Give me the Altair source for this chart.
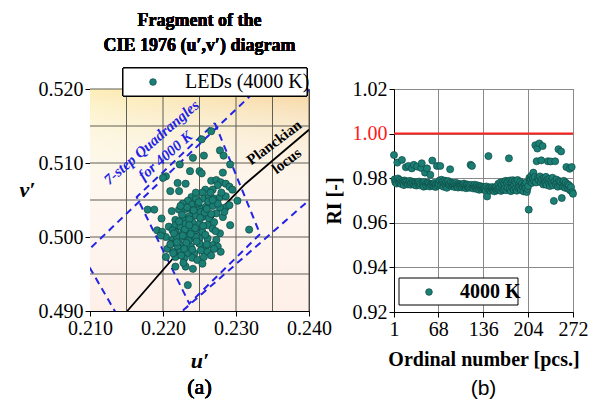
import altair as alt
import pandas as pd

# ---------------- Panel (a): CIE 1976 u'v' fragment ----------------
u_vals = [0.2266, 0.2253, 0.2256, 0.2241, 0.2278, 0.2283, 0.2223, 0.2292, 0.2282, 0.2237,
          0.2250, 0.2253, 0.2204, 0.2200, 0.2220, 0.2231, 0.2210, 0.2222, 0.2266, 0.2273,
          0.2279, 0.2286, 0.2275, 0.2291, 0.2258, 0.2254, 0.2268, 0.2295, 0.2302, 0.2239,
          0.2245, 0.2234, 0.2227, 0.2240, 0.2256, 0.2263, 0.2270, 0.2278, 0.2286, 0.2179,
          0.2188, 0.2198, 0.2212, 0.2222, 0.2231, 0.2240, 0.2250, 0.2259, 0.2268, 0.2286,
          0.2291, 0.2282, 0.2284, 0.2245, 0.2236, 0.2227, 0.2217, 0.2254, 0.2263, 0.2273,
          0.2292, 0.2318, 0.2192, 0.2199, 0.2208, 0.2217, 0.2224, 0.2231, 0.2240, 0.2250,
          0.2261, 0.2268, 0.2278, 0.2217, 0.2227, 0.2236, 0.2245, 0.2254, 0.2204, 0.2213,
          0.2222, 0.2231, 0.2240, 0.2250, 0.2261, 0.2273, 0.2211, 0.2220, 0.2229, 0.2238,
          0.2250, 0.2259, 0.2268, 0.2275, 0.2206, 0.2214, 0.2224, 0.2234, 0.2243, 0.2252,
          0.2261, 0.2270, 0.2279, 0.2204, 0.2217, 0.2229, 0.2240, 0.2247, 0.2256, 0.2266,
          0.2254, 0.2217, 0.2231, 0.2241, 0.2234, 0.2197, 0.2213, 0.2266, 0.2278, 0.2252,
          0.2230, 0.2245, 0.2226, 0.2248, 0.2262, 0.2235, 0.2219, 0.2255, 0.2270, 0.2225,
          0.2240, 0.2210, 0.2233, 0.2265, 0.2280, 0.2245, 0.2215, 0.2260, 0.2275, 0.2228,
          0.2222, 0.2236, 0.2244, 0.2251, 0.2227, 0.2238, 0.2257, 0.2219, 0.2232, 0.2246,
          0.2258, 0.2268, 0.2224, 0.2236, 0.2249, 0.2214, 0.2229, 0.2242, 0.2260, 0.2272]
v_vals = [0.5143, 0.5132, 0.5110, 0.5107, 0.5117, 0.5110, 0.5098, 0.5098, 0.5087, 0.5089,
          0.5089, 0.5086, 0.5082, 0.5080, 0.5073, 0.5072, 0.5062, 0.5062, 0.5076, 0.5077,
          0.5074, 0.5072, 0.5070, 0.5068, 0.5064, 0.5060, 0.5064, 0.5064, 0.5049, 0.5054,
          0.5052, 0.5049, 0.5045, 0.5044, 0.5052, 0.5054, 0.5052, 0.5054, 0.5055, 0.5037,
          0.5037, 0.5025, 0.5035, 0.5037, 0.5038, 0.5036, 0.5040, 0.5041, 0.5042, 0.5040,
          0.5043, 0.5027, 0.5034, 0.5029, 0.5028, 0.5025, 0.5023, 0.5027, 0.5025, 0.5032,
          0.5016, 0.5010, 0.5009, 0.5007, 0.5014, 0.5016, 0.5014, 0.5018, 0.5020, 0.5018,
          0.5016, 0.5011, 0.5005, 0.5007, 0.5005, 0.5009, 0.5009, 0.5007, 0.5000, 0.4996,
          0.4997, 0.5000, 0.4998, 0.4998, 0.4998, 0.4996, 0.4991, 0.4987, 0.4989, 0.4987,
          0.4991, 0.4988, 0.4989, 0.4987, 0.4984, 0.4980, 0.4980, 0.4978, 0.4978, 0.4982,
          0.4980, 0.4984, 0.4980, 0.4973, 0.4973, 0.4971, 0.4972, 0.4969, 0.4973, 0.4975,
          0.4964, 0.4960, 0.4960, 0.4957, 0.4935, 0.5002, 0.5009, 0.5031, 0.5040, 0.5034,
          0.5010, 0.5000, 0.5030, 0.5045, 0.5048, 0.4995, 0.5000, 0.5015, 0.5020, 0.4975,
          0.4983, 0.4990, 0.5040, 0.5060, 0.5060, 0.5060, 0.5005, 0.4990, 0.5045, 0.4965,
          0.5021, 0.5024, 0.5012, 0.5026, 0.5002, 0.5004, 0.5033, 0.4993, 0.4992, 0.4994,
          0.5003, 0.5050, 0.5042, 0.5016, 0.5047, 0.4978, 0.4984, 0.5036, 0.5038, 0.5008]

planck_u = [0.2151, 0.2219, 0.2242, 0.2313, 0.2345, 0.2400]
planck_v = [0.4900, 0.4977, 0.5000, 0.5072, 0.5099, 0.5145]

quad_shape = ["outer"] * 5 + ["inner"] * 5
quad_u = [0.2090, 0.2375, 0.2455, 0.2165, 0.2090, 0.2271, 0.2333, 0.2236, 0.2164, 0.2271]
quad_v = [0.4975, 0.5243, 0.5097, 0.4847, 0.4975, 0.5154, 0.5004, 0.4910, 0.5054, 0.5154]

grid_u = [0.215, 0.220, 0.225, 0.230, 0.235, 0.240]
grid_v = [0.495, 0.500, 0.505, 0.510, 0.515, 0.520]
u_ticks = [0.21, 0.22, 0.23, 0.24]
v_ticks = [0.49, 0.50, 0.51, 0.52]

# ---------------- Panel (b): RI of 272 LEDs ----------------
ri_vals = [
    0.9904, 0.9795, 0.9782, 0.9788, 0.9776, 0.9870, 0.9799, 0.9785, 0.9779, 0.9792, 0.9781, 0.9774, 0.9882, 0.9787, 0.9778, 0.9769, 0.9790,
    0.9783, 0.9849, 0.9777, 0.9785, 0.9772, 0.9855, 0.9780, 0.9788, 0.9771, 0.9779, 0.9844, 0.9784, 0.9776, 0.9860, 0.9770, 0.9782, 0.9778,
    0.9767, 0.9852, 0.9780, 0.9773, 0.9785, 0.9768, 0.9776, 0.9846, 0.9867, 0.9779, 0.9771, 0.9762, 0.9783, 0.9825, 0.9774, 0.9766, 0.9844,
    0.9780, 0.9770, 0.9776, 0.9763, 0.9815, 0.9772, 0.9768, 0.9879, 0.9775, 0.9764, 0.9779, 0.9770, 0.9761, 0.9773, 0.9855, 0.9766, 0.9777,
    0.9772, 0.9790, 0.9855, 0.9768, 0.9793, 0.9775, 0.9785, 0.9762, 0.9778, 0.9789, 0.9770, 0.9783, 0.9757, 0.9776, 0.9787, 0.9769, 0.9774,
    0.9840, 0.9781, 0.9764, 0.9772, 0.9778, 0.9766, 0.9775, 0.9760, 0.9771, 0.9779, 0.9765, 0.9770, 0.9758, 0.9774, 0.9768, 0.9762, 0.9773,
    0.9767, 0.9758, 0.9771, 0.9764, 0.9776, 0.9761, 0.9769, 0.9755, 0.9766, 0.9772, 0.9760, 0.9768, 0.9757, 0.9763, 0.9860, 0.9770, 0.9855,
    0.9761, 0.9754, 0.9766, 0.9771, 0.9759, 0.9763, 0.9752, 0.9768, 0.9757, 0.9762, 0.9748, 0.9765, 0.9758, 0.9753, 0.9762, 0.9749, 0.9756,
    0.9761, 0.9751, 0.9758, 0.9746, 0.9763, 0.9718, 0.9755, 0.9899, 0.9750, 0.9759, 0.9744, 0.9756, 0.9752, 0.9760, 0.9747, 0.9754, 0.9741,
    0.9758, 0.9750, 0.9762, 0.9745, 0.9753, 0.9775, 0.9749, 0.9757, 0.9781, 0.9743, 0.9769, 0.9752, 0.9784, 0.9748, 0.9776, 0.9755, 0.9788,
    0.9746, 0.9779, 0.9756, 0.9786, 0.9889, 0.9751, 0.9790, 0.9742, 0.9783, 0.9758, 0.9791, 0.9749, 0.9770, 0.9787, 0.9753, 0.9779, 0.9744,
    0.9792, 0.9757, 0.9773, 0.9762, 0.9785, 0.9748, 0.9768, 0.9777, 0.9759, 0.9741, 0.9771, 0.9766, 0.9755, 0.9780, 0.9738, 0.9752, 0.9764,
    0.9659, 0.9802, 0.9786, 0.9795, 0.9810, 0.9779, 0.9798, 0.9825, 0.9788, 0.9805, 0.9948, 0.9781, 0.9876, 0.9933, 0.9799, 0.9791, 0.9956,
    0.9808, 0.9782, 0.9880, 0.9795, 0.9944, 0.9772, 0.9801, 0.9787, 0.9778, 0.9806, 0.9770, 0.9792, 0.9876, 0.9783, 0.9797, 0.9765, 0.9875,
    0.9789, 0.9776, 0.9802, 0.9768, 0.9698, 0.9785, 0.9876, 0.9772, 0.9794, 0.9779, 0.9762, 0.9930, 0.9787, 0.9770, 0.9783, 0.9920, 0.9711,
    0.9776, 0.9762, 0.9788, 0.9769, 0.9757, 0.9780, 0.9850, 0.9764, 0.9773, 0.9752, 0.9768, 0.9842, 0.9745, 0.9760, 0.9850, 0.9738, 0.9730,
]
n_ticks = [1, 68, 136, 204, 272]
ri_ticks = [0.92, 0.94, 0.96, 0.98, 1.00, 1.02]

SERIF = "Liberation Serif"
TEAL = "#1b7f75"
TEAL_EDGE = "#0d4a44"
BLUE = "#2323e6"

# ---------------- build left chart ----------------
WL, HL = 219, 222
df_pts = pd.DataFrame({"u": u_vals, "v": v_vals, "series": "LEDs (4000 K)"})
df_planck = pd.DataFrame({"u": planck_u, "v": planck_v, "o": list(range(len(planck_u)))})
df_quad = pd.DataFrame({"u": quad_u, "v": quad_v, "shape": quad_shape, "o": list(range(len(quad_u)))})
df_gu = pd.DataFrame({"u": grid_u})
df_gv = pd.DataFrame({"v": grid_v})

xs = alt.Scale(domain=[0.21, 0.24], nice=False, zero=False)
ys = alt.Scale(domain=[0.49, 0.52], nice=False, zero=False)
xax = alt.Axis(values=u_ticks, format=".3f", grid=False, labelFlush=False, labelOverlap=False,
               title="u′", titleFontStyle="italic", titleFontWeight="bold", titleFontSize=22,
               titlePadding=12)
yax = alt.Axis(values=v_ticks, format=".3f", grid=False, labelOverlap=False,
               title="v′", titleAngle=0, titleX=-63, titleY=100, titleAlign="center",
               titleBaseline="middle", titleFontStyle="italic", titleFontWeight="bold",
               titleFontSize=22)
X = alt.X("u:Q", scale=xs, axis=xax)
Y = alt.Y("v:Q", scale=ys, axis=yax)

bg1 = alt.Chart(df_gu).mark_rect(
    color=alt.LinearGradient(gradient="linear", x1=0, y1=0, x2=1, y2=0,
                             stops=[alt.GradientStop(color="#fdefb8", offset=0),
                                    alt.GradientStop(color="#f8d49c", offset=1)])
).encode(x=alt.value(0), x2=alt.value(WL), y=alt.value(0), y2=alt.value(HL))
bg2 = alt.Chart(df_gu).mark_rect(
    color=alt.LinearGradient(gradient="linear", x1=0, y1=0, x2=0, y2=1,
                             stops=[alt.GradientStop(color="rgba(255,255,255,0)", offset=0),
                                    alt.GradientStop(color="rgba(254,240,232,0.7)", offset=1)])
).encode(x=alt.value(0), x2=alt.value(WL), y=alt.value(0), y2=alt.value(HL))

gridu = alt.Chart(df_gu).mark_rule(color="#5f5f55", strokeWidth=1).encode(x=X)
gridv = alt.Chart(df_gv).mark_rule(color="#5f5f55", strokeWidth=1).encode(y=Y)

quad = alt.Chart(df_quad).mark_line(clip=True, color=BLUE, strokeDash=[7, 5], strokeWidth=2).encode(
    x=X, y=Y, detail="shape:N", order="o:Q")
planck = alt.Chart(df_planck).mark_line(clip=True, color="black", strokeWidth=1.8).encode(
    x=X, y=Y, order="o:Q")

legbox_a = alt.Chart(df_gu).mark_rect(fill="white", stroke="black", strokeWidth=1).encode(
    x=alt.value(33), x2=alt.value(217), y=alt.value(-21), y2=alt.value(7))

pts = alt.Chart(df_pts).mark_circle(size=52, opacity=1, stroke=TEAL_EDGE, strokeWidth=0.7).encode(
    x=X, y=Y,
    color=alt.Color("series:N", scale=alt.Scale(range=[TEAL]),
                    legend=alt.Legend(title=None, orient="none", legendX=53, legendY=-17,
                                      labelFont=SERIF, labelFontSize=20, labelColor="black",
                                      symbolType="circle", symbolSize=45, labelOffset=22,
                                      symbolStrokeColor=TEAL_EDGE, symbolStrokeWidth=0.7,
                                      padding=0)))

ann_quad = pd.DataFrame({"u": [0.2184, 0.2203], "v": [0.5128, 0.5110],
                         "t": ["7-step Quadrangles", "for 4000 K"]})
ann_pl = pd.DataFrame({"u": [0.2352, 0.2369], "v": [0.5128, 0.5103], "t": ["Planckian", "locus"]})
t_quad = alt.Chart(ann_quad).mark_text(angle=319, font=SERIF, fontSize=15, fontWeight="bold",
                                       fontStyle="italic", color=BLUE).encode(
    x=X, y=Y, text="t:N")
t_pl = alt.Chart(ann_pl).mark_text(angle=323, font=SERIF, fontSize=15, fontWeight="bold",
                                   color="black").encode(x=X, y=Y, text="t:N")

ttl1 = alt.Chart(df_gu).mark_text(text="Fragment of the", font=SERIF, fontSize=18, fontWeight="bold",
                                  baseline="alphabetic").encode(x=alt.value(WL / 2), y=alt.value(-63))
ttl2 = alt.Chart(df_gu).mark_text(text="CIE 1976 (u′,v′) diagram", font=SERIF, fontSize=18,
                                  fontWeight="bold", baseline="alphabetic").encode(
    x=alt.value(WL / 2), y=alt.value(-38))
lab_a = alt.Chart(df_gu).mark_text(text="(a)", font=SERIF, fontSize=22, baseline="middle").encode(
    x=alt.value(WL / 2), y=alt.value(298))

left = alt.layer(bg1, bg2, gridu, gridv, quad, planck, legbox_a, pts, t_quad, t_pl,
                 ttl1, ttl2, lab_a).properties(width=WL, height=HL)

# ---------------- build right chart ----------------
WR, HR = 179, 223
df_ri = pd.DataFrame({"n": list(range(1, len(ri_vals) + 1)), "ri": ri_vals, "series": "4000 K"})
xr = alt.X("n:Q", scale=alt.Scale(domain=[1, 272], nice=False, zero=False),
           axis=alt.Axis(values=n_ticks, grid=True, gridColor="#8a8a8a", labelFlush=False,
                         labelOverlap=False, title="Ordinal number [pcs.]", titleFontWeight="bold",
                         titleFontSize=20, titlePadding=10))
yr = alt.Y("ri:Q", scale=alt.Scale(domain=[0.92, 1.02], nice=False, zero=False),
           axis=alt.Axis(values=ri_ticks, format=".2f", grid=True, gridColor="#8a8a8a",
                         labelOverlap=False,
                         labelColor={"condition": {"test": "abs(datum.value - 1) < 0.001",
                                                   "value": "#ff1a1a"}, "value": "black"},
                         title="RI [-]", titleFontWeight="bold", titleFontSize=20, titlePadding=8))

redline = alt.Chart(pd.DataFrame({"ri": [1.0]})).mark_rule(color="#ff2020", strokeWidth=2).encode(y=yr)
legbox_b = alt.Chart(pd.DataFrame({"ri": [1.0]})).mark_rect(fill="white", stroke="black",
                                                           strokeWidth=1).encode(
    x=alt.value(5), x2=alt.value(124), y=alt.value(189), y2=alt.value(216))
pts_b = alt.Chart(df_ri).mark_circle(size=50, opacity=1, stroke=TEAL_EDGE, strokeWidth=0.7).encode(
    x=xr, y=yr,
    color=alt.Color("series:N", scale=alt.Scale(range=[TEAL]),
                    legend=alt.Legend(title=None, orient="none", legendX=25, legendY=193,
                                      labelFont=SERIF, labelFontSize=20, labelFontWeight="bold",
                                      labelColor="black", symbolType="circle", symbolSize=45,
                                      labelOffset=21, symbolStrokeColor=TEAL_EDGE,
                                      symbolStrokeWidth=0.7, padding=0)))
lab_b = alt.Chart(pd.DataFrame({"ri": [1.0]})).mark_text(text="(b)", font="Liberation Sans",
                                                         fontSize=21, baseline="middle").encode(
    x=alt.value(WR / 2), y=alt.value(300))

right = alt.layer(redline, legbox_b, pts_b, lab_b).properties(width=WR, height=HR)

chart = alt.hconcat(left, right, spacing=85, bounds="flush").resolve_scale(
    color="independent").resolve_legend(color="independent").properties(
    padding={"left": 18, "top": 11, "right": 5, "bottom": 2}
).configure(font=SERIF, background="white").configure_view(
    stroke="#333333", strokeWidth=1
).configure_axis(
    labelFont=SERIF, titleFont=SERIF, labelFontSize=20, labelColor="black", titleColor="black",
    domainColor="black", tickColor="black", tickSize=5, labelPadding=2
)

chart.save("out.html", embed_options={"renderer": "svg", "actions": False})
